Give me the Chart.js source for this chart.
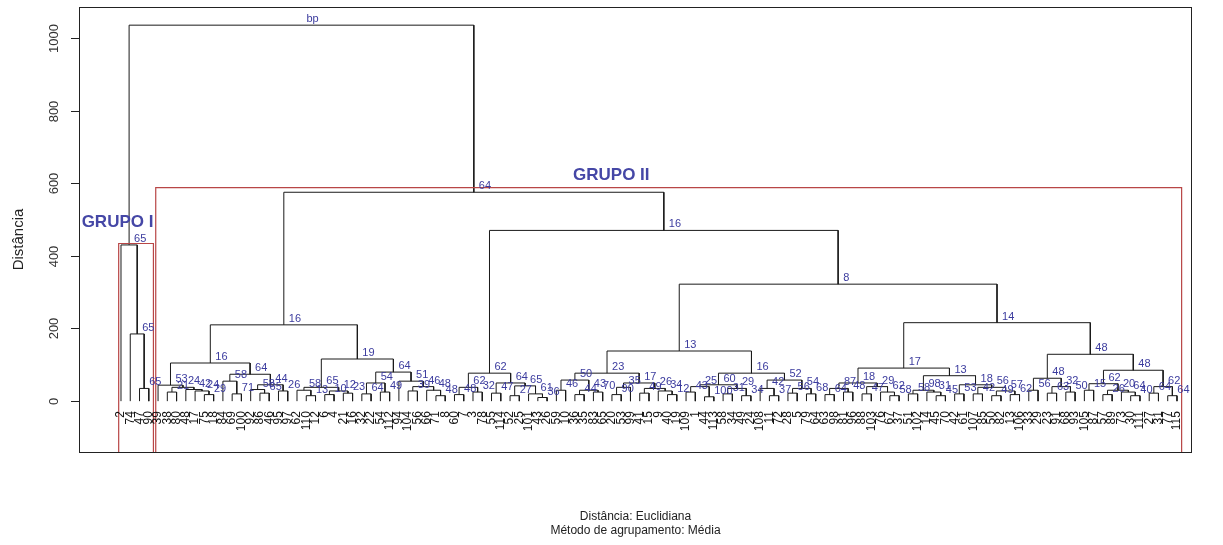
<!DOCTYPE html>
<html><head><meta charset="utf-8">
<script src="https://cdn.jsdelivr.net/npm/chart.js@4.4.1/dist/chart.umd.min.js"></script>
<style>html,body{margin:0;padding:0;background:#fff}#wrap{width:1223px;height:545px;position:relative}</style>
</head><body><div id="wrap"><canvas id="c" width="1223" height="545"></canvas></div>
<script>
// Leaf labels in plotted order (left to right)
const leafLabels = ["2","74","47","90","39","38","80","48","17","75","18","84","69","100","92","86","46","95","97","62",
"110","12","6","4","21","16","32","22","54","112","94","104","56","66","71","8","60","7","3","78",
"55","114","52","25","101","43","26","59","10","36","35","83","65","20","53","99","41","15","9","40",
"19","109","1","44","113","58","34","49","24","108","11","72","28","5","79","64","63","98","81","96",
"88","103","76","67","37","51","102","14","45","70","42","61","107","85","50","82","13","106","33","29",
"23","91","68","93","105","87","57","89","73","30","111","27","31","77","115"];
// Merge height joining leaf i and leaf i+1 (cophenetic distance of neighbours)
const mergeHeights = [430,185,35,1035,44,25,38,32,28,18,105,55,20,74,32,22,45,28,210,30,
15,38,18,28,22,116,20,50,25,80,55,28,40,30,15,575,18,38,25,77,
22,50,15,42,20,10,470,30,58,18,30,25,77,18,38,50,22,35,28,18,
138,25,40,12,45,20,35,15,77,35,15,58,22,35,20,322,18,35,25,50,
20,40,25,15,91,20,30,25,15,70,20,45,20,38,15,28,18,216,30,63,
22,40,25,129,30,48,18,30,25,15,85,22,40,15];
// Bootstrap (bp) value of the node formed at that merge
const bpLabels = ["65","65","65","bp","53","21","24","42","24","29","16","58","71","64","58","65","44","26","16","58",
"13","65","10","12","23","19","64","54","49","64","51","39","46","48","48","64","48","62","32","62",
"47","64","27","65","61","36","16","46","50","44","43","70","23","90","35","17","49","26","34","12",
"13","43","25","100","60","31","29","34","16","42","37","52","56","54","68","8","64","87","48","18",
"47","29","62","58","17","58","98","31","45","13","53","18","42","56","49","57","62","14","56","48",
"63","32","50","48","15","62","26","20","64","40","48","64","62","64"];
const groupNames = ["GRUPO I","GRUPO II"];
const groupFirstLeaf = [1,5];
const groupLastLeaf = [4,115];
const groupTop = [434,588];
const yTicks = [0,200,400,600,800,1000];

const nodes = [];
function build(lo, hi){
  if(lo===hi) return {x:lo,h:0,leaf:true};
  let k=lo;
  for(let g=lo; g<hi; g++){ if(mergeHeights[g-1] > mergeHeights[k-1]) k=g; }
  const L=build(lo,k), R=build(k+1,hi);
  const n={x:(L.x+R.x)/2,h:mergeHeights[k-1],bp:bpLabels[k-1],L:L,R:R};
  nodes.push(n); return n;
}
build(1, leafLabels.length);

const datasets = [];
// pvrect-style group boxes (drawn on top)
for(let i=0;i<groupNames.length;i++){
  const l=groupFirstLeaf[i]-0.25, r=groupLastLeaf[i]+0.5;
  datasets.push({data:[{x:l,y:-400},{x:l,y:groupTop[i]},{x:r,y:groupTop[i]},{x:r,y:-400}],
    showLine:true,borderColor:'#b84646',borderWidth:1.2,pointRadius:0,fill:false});
}
nodes.forEach(n=>{
  datasets.push({data:[{x:n.L.x,y:n.L.h},{x:n.L.x,y:n.h},{x:n.R.x,y:n.h},{x:n.R.x,y:n.R.h}],
    showLine:true,borderColor:'#1a1a1a',borderWidth:1,pointRadius:0,fill:false});
});

const FONT = '"Liberation Sans", Arial, Helvetica, sans-serif';
const deco = {
  id:'deco',
  afterDraw(chart){
    const ctx=chart.ctx, xs=chart.scales.x, ys=chart.scales.y, a=chart.chartArea;
    ctx.save();
    // box
    ctx.strokeStyle='#222'; ctx.lineWidth=1;
    ctx.strokeRect(Math.round(a.left)+0.5, Math.round(a.top)+0.5, Math.round(a.right-a.left)-1, Math.round(a.bottom-a.top));
    // y ticks
    ctx.fillStyle='#333'; ctx.font='13px '+FONT;
    yTicks.forEach(t=>{
      const py=Math.round(ys.getPixelForValue(t))+0.5;
      ctx.beginPath(); ctx.moveTo(a.left,py); ctx.lineTo(a.left-8,py); ctx.stroke();
      ctx.save(); ctx.translate(a.left-25,py); ctx.rotate(-Math.PI/2);
      ctx.textAlign='center'; ctx.textBaseline='middle'; ctx.fillText(String(t),0,0); ctx.restore();
    });
    // y axis title
    ctx.save(); ctx.translate(19,(ys.getPixelForValue(0)+ys.getPixelForValue(1000))/2 + 20); ctx.rotate(-Math.PI/2);
    ctx.font='15px '+FONT; ctx.textAlign='center'; ctx.textBaseline='middle'; ctx.fillStyle='#222';
    ctx.fillText('Distância',0,0); ctx.restore();
    // leaf labels
    ctx.font='12px '+FONT; ctx.fillStyle='#111';
    const ly = ys.getPixelForValue(0)+10;
    leafLabels.forEach((lab,i)=>{
      const px=xs.getPixelForValue(i+1);
      ctx.save(); ctx.translate(px,ly); ctx.rotate(-Math.PI/2);
      ctx.textAlign='right'; ctx.textBaseline='middle'; ctx.fillText(lab,0,0); ctx.restore();
    });
    // bp labels
    ctx.font='11px '+FONT; ctx.fillStyle='#3b3b9e'; ctx.textAlign='left'; ctx.textBaseline='alphabetic';
    nodes.forEach(n=>{
      ctx.fillText(n.bp, xs.getPixelForValue(n.x)+5, ys.getPixelForValue(n.h)-3);
    });
    // group names
    ctx.font='bold 17px '+FONT; ctx.fillStyle='#4547a6';
    ctx.textAlign='right';
    ctx.fillText(groupNames[0], xs.getPixelForValue(groupLastLeaf[0]+0.5), ys.getPixelForValue(479));
    ctx.textAlign='left';
    ctx.fillText(groupNames[1], xs.getPixelForValue(49.8), ys.getPixelForValue(609));
    // bottom texts
    ctx.font='12px '+FONT; ctx.fillStyle='#222'; ctx.textAlign='center';
    const cx=(a.left+a.right)/2;
    ctx.fillText('Distância: Euclidiana', cx, 520);
    ctx.fillText('Método de agrupamento: Média', cx, 534);
    ctx.restore();
  }
};

new Chart(document.getElementById('c'),{
  type:'scatter',
  data:{datasets:datasets},
  options:{
    responsive:false, animation:false, devicePixelRatio:1,
    layout:{padding:{left:79,top:7,right:31,bottom:93}},
    plugins:{legend:{display:false},tooltip:{enabled:false}},
    elements:{line:{tension:0}},
    scales:{
      x:{type:'linear',display:false,min:-3.534,max:116.62},
      y:{type:'linear',display:false,min:-140,max:1085}
    }
  },
  plugins:[deco]
});
</script></body></html>
